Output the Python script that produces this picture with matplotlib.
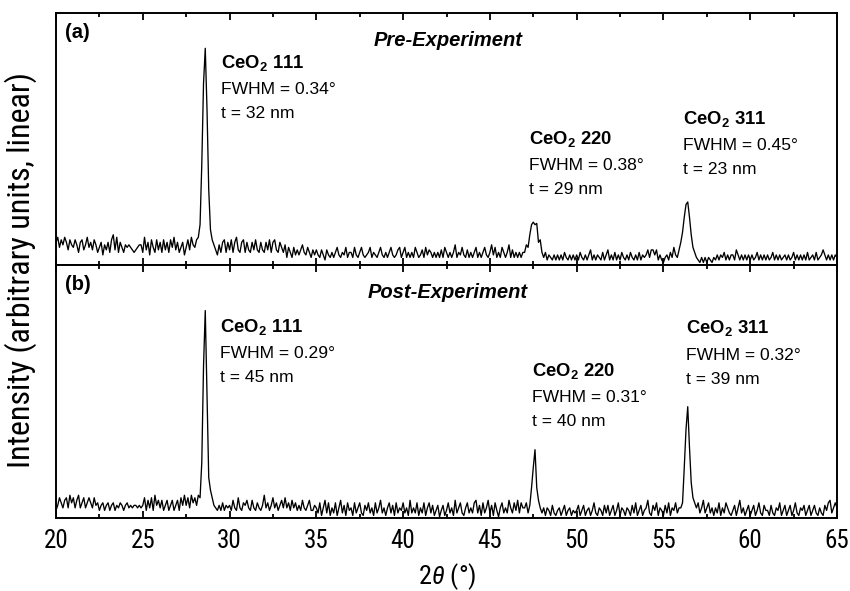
import numpy as np
import matplotlib
matplotlib.use('Agg')
import matplotlib.pyplot as plt
from matplotlib import font_manager
from matplotlib.font_manager import FontProperties
from matplotlib.transforms import blended_transform_factory
from matplotlib.ticker import MultipleLocator

# ---------------- data (intensity in % of panel height, 0.1 deg steps) -------------
two_theta = np.round(np.arange(200, 651) / 10.0, 1)

pre_experiment = [
    9, 11, 7, 10, 8, 11, 9, 6, 10, 8,       # 20
    7, 10, 8, 5, 9, 10, 6, 8, 11, 7,        # 21
    9, 6, 10, 8, 5, 7, 9, 4, 8, 6,          # 22
    9, 5, 10, 12, 6, 11, 5, 9, 7, 5,        # 23
    8, 7, 8, 7, 6, 5, 6, 7, 8, 8,           # 24
    5, 11, 6, 9, 4, 10, 7, 5, 10, 6,        # 25
    9, 5, 10, 6, 9, 5, 10, 7, 11, 6,        # 26
    9, 5, 7, 9, 4, 7, 10, 6, 11, 8,         # 27
    7, 10, 11, 16, 40, 72, 86, 62, 30, 14,  # 28
    10, 8, 6, 4, 8, 5, 9, 10, 5, 9,         # 29
    6, 10, 5, 9, 11, 6, 5, 9, 10, 5,        # 30
    9, 6, 5, 9, 6, 10, 6, 5, 9, 6,          # 31
    5, 9, 6, 10, 5, 9, 10, 6, 5, 9,         # 32
    7, 5, 8, 3, 7, 5, 3, 7, 4, 6,           # 33
    4, 6, 8, 5, 4, 7, 5, 3, 6, 4,           # 34
    6, 4, 3, 6, 4, 2, 6, 4, 3, 5,           # 35
    3, 5, 7, 4, 3, 5, 4, 7, 3, 5,           # 36
    5, 3, 7, 4, 3, 5, 7, 4, 3, 4,           # 37
    5, 7, 3, 5, 4, 3, 5, 7, 4, 3,           # 38
    5, 3, 5, 7, 4, 3, 4, 6, 7, 3,           # 39
    5, 7, 3, 5, 3, 5, 3, 7, 5, 3,           # 40
    4, 6, 3, 7, 4, 6, 5, 3, 5, 3,           # 41
    5, 3, 6, 3, 7, 5, 3, 5, 3, 5,           # 42
    8, 3, 5, 4, 7, 4, 3, 6, 3, 5,           # 43
    3, 5, 7, 3, 5, 3, 5, 7, 4, 3,           # 44
    5, 8, 4, 7, 3, 5, 3, 7, 5, 3,           # 45
    5, 8, 3, 6, 3, 5, 3, 5, 3, 5,           # 46
    5, 8, 7, 12, 16, 17, 16, 16.5, 9, 10,   # 47
    5, 3, 5, 2, 4, 3, 2, 4, 2, 4,           # 48
    2, 4, 2, 5, 3, 2, 4, 2, 4, 2,           # 49
    4, 2, 5, 3, 2, 4, 2, 4, 6, 2,           # 50
    4, 2, 4, 3, 2, 5, 2, 4, 6, 2,           # 51
    4, 2, 5, 2, 4, 2, 5, 3, 2, 4,           # 52
    2, 5, 3, 2, 4, 2, 5, 2, 4, 3,           # 53
    4, 6, 3, 6, 6, 4, 6, 2, 4, 2,           # 54
    1, 3, 4, 2, 5, 3, 7, 4, 3, 6,           # 55
    9, 13, 19, 24, 25, 19, 12, 7, 5, 3,     # 56
    2, 1, 3, 1, 3, 1, 3, 2, 1, 3,           # 57
    2, 4, 2, 4, 3, 5, 2, 4, 2, 4,           # 58
    4, 2, 6, 4, 2, 4, 2, 4, 2, 4,           # 59
    2, 4, 2, 3, 5, 2, 4, 2, 4, 2,           # 60
    4, 2, 3, 5, 2, 4, 2, 4, 2, 3,           # 61
    4, 2, 4, 2, 3, 5, 2, 4, 2, 4,           # 62
    2, 4, 2, 5, 2, 3, 4, 2, 5, 2,           # 63
    3, 4, 6, 4, 2, 4, 2, 4, 2, 4,           # 64
    3,                                      # 65
]

post_experiment = [
    3, 5, 8, 6, 4, 7, 8, 4, 9, 6,           # 20
    8, 4, 7, 9, 4, 6, 8, 4, 6, 8,           # 21
    6, 4, 8, 5, 6, 3, 5, 6, 3, 5,           # 22
    6, 3, 5, 6, 3, 5, 4, 6, 5, 3,           # 23
    5, 6, 4, 5, 4, 5, 5, 4, 5, 4,           # 24
    5, 8, 3, 7, 4, 8, 3, 9, 5, 7,           # 25
    4, 7, 3, 5, 7, 3, 5, 7, 3, 5,           # 26
    7, 3, 8, 5, 9, 5, 8, 4, 9, 6,           # 27
    8, 5, 9, 8, 22, 60, 82, 48, 16, 11,     # 28
    8, 5, 4, 3, 5, 3, 6, 3, 5, 4,           # 29
    5, 3, 7, 4, 3, 8, 4, 3, 6, 5,           # 30
    7, 4, 3, 7, 4, 3, 6, 4, 3, 5,           # 31
    9, 4, 6, 3, 5, 8, 4, 6, 3, 5,           # 32
    7, 4, 8, 4, 6, 3, 7, 4, 6, 3,           # 33
    5, 3, 7, 4, 3, 5, 7, 3, 3, 5,           # 34
    4, 2, 6, 1, 4, 7, 2, 6, 1, 4,           # 35
    2, 6, 1, 4, 7, 2, 5, 1, 6, 3,           # 36
    4, 1, 6, 2, 4, 6, 2, 1, 5, 3,           # 37
    6, 2, 4, 1, 6, 2, 4, 7, 2, 4,           # 38
    1, 4, 6, 2, 5, 1, 6, 2, 4, 3,           # 39
    6, 2, 4, 1, 7, 2, 4, 2, 6, 1,           # 40
    4, 2, 6, 1, 4, 6, 2, 5, 1, 3,           # 41
    5, 0.5, 3, 5, 1, 3, 6, 2, 4, 1,         # 42
    7, 2, 4, 6, 2, 1, 4, 6, 2, 4,           # 43
    2, 6, 7, 2, 5, 1, 6, 2, 4, 7,           # 44
    2, 5, 1, 6, 3, 0.5, 4, 6, 2, 4,         # 45
    2, 7, 4, 2, 6, 3, 7, 2, 6, 4,           # 46
    4, 6, 2, 5, 12, 20, 27, 12, 7, 4,       # 47
    2, 4, 1, 4, 3, 1, 5, 2, 1, 3,           # 48
    4, 1, 3, 5, 1, 3, 4, 1, 3, 2,           # 49
    3, 5, 1, 3, 5, 1, 3, 4, 1, 3,           # 50
    6, 2, 1, 4, 3, 1, 5, 2, 5, 1,           # 51
    3, 5, 1, 3, 6, 1, 4, 3, 1, 4,           # 52
    3, 1, 5, 2, 6, 1, 3, 5, 1, 3,           # 53
    4, 7, 2, 1, 5, 3, 6, 1, 4, 3,           # 54
    1, 5, 2, 6, 1, 4, 3, 6, 2, 4,           # 55
    4, 6, 20, 35, 44, 28, 14, 8, 6, 4,      # 56
    6, 2, 4, 7, 2, 4, 6, 2, 4, 1,           # 57
    4, 2, 6, 1, 4, 2, 6, 4, 2, 1,           # 58
    3, 5, 1, 4, 7, 2, 4, 1, 3, 5,           # 59
    1, 3, 5, 1, 3, 6, 2, 1, 5, 3,           # 60
    3, 1, 5, 2, 1, 4, 3, 6, 1, 3,           # 61
    5, 1, 3, 5, 1, 3, 6, 2, 1, 4,           # 62
    3, 5, 1, 3, 5, 1, 3, 5, 2, 1,           # 63
    4, 2, 1, 5, 3, 6, 7, 2, 4, 6,           # 64
    4,                                      # 65
]

panel_tags = ['(a)', '(b)']
panel_titles = ['Pre-Experiment', 'Post-Experiment']
peak_names = ['111', '220', '311']
fwhm_pre = ['0.34', '0.38', '0.45']
size_pre = ['32', '29', '23']
fwhm_post = ['0.29', '0.31', '0.32']
size_post = ['45', '40', '39']
x_ticks = [20, 25, 30, 35, 40, 45, 50, 55, 60, 65]

# ---------------- fonts -------------
names = {f.name for f in font_manager.fontManager.ttflist}
SANS = 'Liberation Sans' if 'Liberation Sans' in names else 'DejaVu Sans'


def find_narrow():
    prefs = ['Liberation Sans Narrow', 'Arial Narrow', 'Roboto Condensed', 'Open Sans Condensed']
    cands = []
    for f in font_manager.fontManager.ttflist:
        n = f.name
        is_narrow = ('Narrow' in n or 'Condensed' in n or
                     f.stretch in ('condensed', 'semi-condensed', 'extra-condensed'))
        if is_narrow and f.style == 'normal' and f.weight in (400, 'normal', 'regular'):
            cands.append(f)
    for p in prefs:
        for f in cands:
            if f.name == p:
                return f
    return cands[0] if cands else None


narrow_entry = find_narrow()
if narrow_entry is not None:
    NARROW_PROPS = dict(fname=narrow_entry.fname)
    NARROW_NAME = narrow_entry.name
    tick_size, ylab_size, xlab_size = 18, 23, 19
else:
    NARROW_PROPS = dict(family=SANS)
    NARROW_NAME = SANS
    tick_size, ylab_size, xlab_size = 16, 20, 17

plt.rcParams['font.family'] = [SANS, 'DejaVu Sans']
plt.rcParams['mathtext.fontset'] = 'custom'
plt.rcParams['mathtext.rm'] = SANS
plt.rcParams['mathtext.bf'] = SANS + ':bold'
plt.rcParams['mathtext.it'] = NARROW_NAME + ':italic'

# ---------------- figure -------------
W, H = 850, 591
fig = plt.figure(figsize=(W / 100, H / 100), dpi=100)
L, R = 56 / W, 837 / W
ax_top = fig.add_axes([L, 1 - 265 / H, R - L, (265 - 13) / H])
ax_bot = fig.add_axes([L, 1 - 518 / H, R - L, (518 - 265) / H], sharex=ax_top)

datasets = [pre_experiment, post_experiment]
for ax, y in zip([ax_top, ax_bot], datasets):
    ax.plot(two_theta, y, color='black', lw=0.95)
    ax.set_xlim(20, 65)
    ax.set_ylim(0, 100)
    ax.set_yticks([])
    ax.xaxis.set_major_locator(MultipleLocator(5))
    ax.xaxis.set_minor_locator(MultipleLocator(2.5))
    ax.tick_params(axis='x', which='both', direction='in', top=True, bottom=True, width=1.3)
    ax.tick_params(axis='x', which='major', length=5)
    ax.tick_params(axis='x', which='minor', length=3)
    for s in ax.spines.values():
        s.set_linewidth(1.4)

ax_top.tick_params(axis='x', labelbottom=False)
ax_bot.set_xticks(x_ticks)
ax_bot.set_xticklabels([str(t) for t in x_ticks])
for lab in ax_bot.get_xticklabels():
    lab.set_fontproperties(FontProperties(size=tick_size, **NARROW_PROPS))
ax_bot.tick_params(axis='x', which='major', pad=8)

# panel labels / titles
for ax, tag, title, top_px, bot_px in [(ax_top, panel_tags[0], panel_titles[0], 13, 265),
                                        (ax_bot, panel_tags[1], panel_titles[1], 265, 518)]:
    hpx = bot_px - top_px
    ax.text((64.5 - 56) / (837 - 56), (bot_px - (top_px + 20)) / hpx, tag, transform=ax.transAxes,
            fontsize=14.5, fontweight='bold', ha='left', va='center')
    ax.text((448 - 56) / (837 - 56), (bot_px - (top_px + 27)) / hpx, title, transform=ax.transAxes,
            fontsize=14.5, fontweight='bold', fontstyle='italic', ha='center', va='center')

# peak annotations: (x data of left edge, y pixel of first line centre)
pre_pos = [(29.5, 63), (47.25, 139), (56.1, 119)]
post_pos = [(29.45, 327), (47.4, 371), (56.3, 328)]
for ax, pos, fw, sz, top_px, bot_px in [(ax_top, pre_pos, fwhm_pre, size_pre, 13, 265),
                                         (ax_bot, post_pos, fwhm_post, size_post, 265, 518)]:
    tr = blended_transform_factory(ax.transData, ax.transAxes)
    hpx = bot_px - top_px
    for (xd, ypx), name, f, s in zip(pos, peak_names, fw, sz):
        ax.text(xd, (bot_px - ypx) / hpx, 'CeO$_\\mathbf{2}$ ' + name, transform=tr,
                fontsize=13.3, fontweight='bold', ha='left', va='center')
        ax.text(xd, (bot_px - (ypx + 27)) / hpx, 'FWHM = ' + f + '°', transform=tr,
                fontsize=12.6, ha='left', va='center')
        ax.text(xd, (bot_px - (ypx + 51)) / hpx, 't = ' + s + ' nm', transform=tr,
                fontsize=12.6, ha='left', va='center')

fig.text(21 / W, 1 - 270 / H, 'Intensity (arbitrary units, linear)', rotation=90,
         fontproperties=FontProperties(size=ylab_size, **NARROW_PROPS), ha='center', va='center')
fig.text(447 / W, 1 - 577 / H, '2$\\theta$ (°)',
         fontproperties=FontProperties(size=xlab_size, **NARROW_PROPS), ha='center', va='center')

fig.savefig('out.png', dpi=100)
